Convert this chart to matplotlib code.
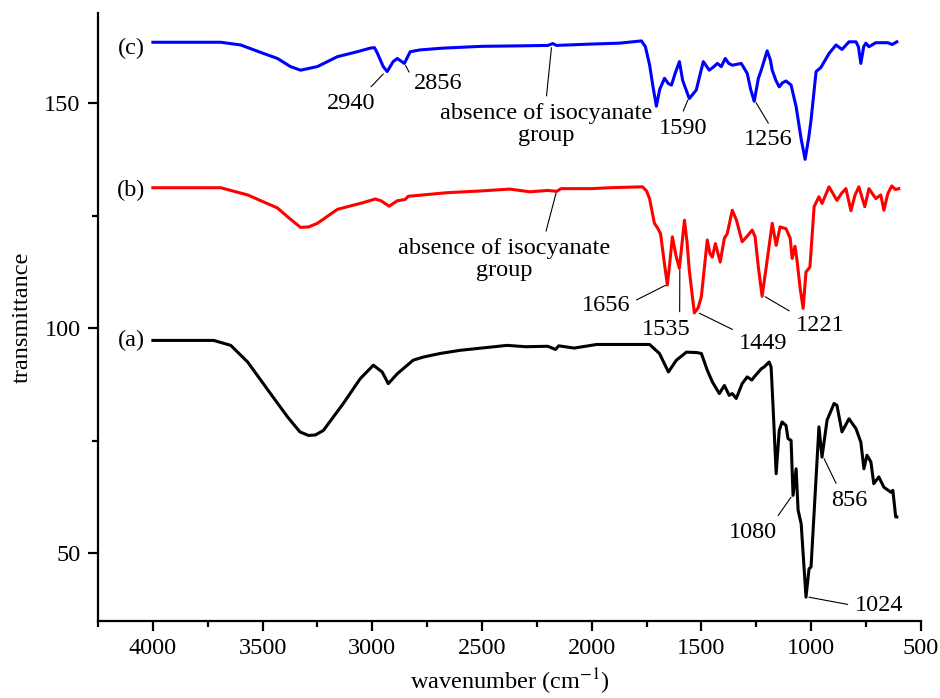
import matplotlib
matplotlib.use("Agg")
import matplotlib.pyplot as plt
from matplotlib.ticker import MultipleLocator

# (a) black spectrum
wn_a = [4000, 3850, 3723, 3645, 3568, 3464, 3386, 3330, 3291, 3260, 3223, 3132, 3055, 2995,
        2955, 2927, 2886, 2814, 2768, 2691, 2600, 2386, 2300, 2200, 2165, 2150, 2080, 1977,
        1850, 1736, 1691, 1650, 1614, 1568, 1520, 1500, 1473, 1450, 1418, 1395, 1373, 1359,
        1341, 1314, 1291, 1270, 1259, 1227, 1214, 1191, 1182, 1173, 1159, 1145, 1132, 1114,
        1105, 1091, 1082, 1068, 1059, 1045, 1023, 1009, 1000, 964, 950, 927, 895, 882, 859,
        827, 795, 773, 759, 745, 727, 714, 691, 668, 636, 627, 614, 609]
tr_a = [97.3, 97.3, 97.3, 96.2, 92.5, 85.5, 80.3, 77.0, 76.2, 76.3, 77.3, 83.3, 88.8, 91.8,
        90.3, 87.7, 89.9, 92.9, 93.6, 94.4, 95.1, 96.2, 95.9, 96.0, 95.3, 96.1, 95.6, 96.4,
        96.4, 96.4, 94.4, 90.3, 92.9, 94.7, 94.6, 94.4, 90.7, 88.1, 85.5, 87.3, 85.1, 85.5,
        84.4, 87.7, 89.2, 88.5, 89.2, 91.0, 91.4, 92.5, 91.4, 82.5, 67.7, 77.3, 79.2, 78.4,
        75.5, 75.1, 62.9, 68.8, 59.6, 56.6, 40.3, 46.6, 47.0, 78.1, 71.4, 79.6, 83.3, 82.9, 77.0,
        79.9, 77.7, 74.7, 68.8, 71.8, 70.3, 65.5, 67.0, 64.7, 63.6, 64.0, 58.1, 58.1]

# (b) red spectrum
wn_b = [4000, 3850, 3691, 3568, 3432, 3380, 3327, 3290, 3250, 3159, 3041, 2986, 2960, 2923,
        2886, 2850, 2836, 2659, 2500, 2373, 2282, 2200, 2159, 2140, 2000, 1918, 1768, 1750,
        1736, 1714, 1700, 1686, 1670, 1655, 1645, 1632, 1615, 1600, 1577, 1565, 1555, 1532,
        1515, 1500, 1473, 1460, 1450, 1436, 1414, 1395, 1382, 1359, 1340, 1314, 1290, 1268,
        1255, 1240, 1223, 1200, 1177, 1159, 1141, 1114, 1095, 1086, 1073, 1064, 1050, 1036,
        1023, 1005, 986, 964, 950, 918, 882, 860, 841, 818, 800, 782, 755, 736, 705, 682, 668,
        650, 632, 615, 600]
tr_b = [131.2, 131.2, 131.2, 129.6, 126.7, 124.5, 122.4, 122.5, 123.3, 126.4, 127.9, 128.7,
        128.3, 127.1, 128.3, 128.6, 129.3, 130.1, 130.5, 130.9, 130.3, 130.6, 130.4, 131.0,
        131.0, 131.2, 131.4, 130.5, 128.8, 123.3, 122.3, 121.0, 115.0, 109.6, 114.0, 120.3,
        116.0, 113.3, 124.0, 119.0, 112.9, 103.4, 104.5, 107.0, 119.6, 116.5, 115.8, 118.8,
        114.7, 120.0, 121.0, 126.2, 124.0, 119.2, 120.5, 121.8, 120.3, 113.5, 107.1, 115.1,
        123.3, 118.4, 122.5, 122.1, 120.0, 115.5, 118.2, 115.1, 109.0, 104.4, 112.5, 113.6,
        127.0, 129.2, 127.7, 131.4, 128.4, 130.0, 131.0, 126.1, 129.5, 131.4, 127.0, 131.0,
        128.8, 129.6, 126.2, 129.9, 131.6, 130.8, 131.0]

# (c) blue spectrum
wn_c = [4000, 3850, 3691, 3600, 3495, 3432, 3373, 3327, 3250, 3159, 3068, 3009, 2990, 2977,
        2950, 2932, 2905, 2886, 2854, 2827, 2782, 2677, 2500, 2327, 2200, 2177, 2160, 2000,
        1873, 1773, 1755, 1736, 1720, 1705, 1690, 1668, 1650, 1636, 1620, 1600, 1585, 1555,
        1523, 1505, 1491, 1464, 1445, 1427, 1409, 1391, 1375, 1359, 1318, 1291, 1275, 1259,
        1240, 1227, 1200, 1185, 1177, 1160, 1145, 1130, 1114, 1091, 1068, 1045, 1027, 1010,
        1000, 977, 955, 918, 886, 859, 827, 795, 784, 773, 760, 750, 736, 705, 650, 630, 609]
tr_c = [163.5, 163.5, 163.5, 162.9, 161.0, 159.9, 158.1, 157.3, 158.1, 160.3, 161.4, 162.2,
        162.3, 161.1, 158.1, 157.0, 159.2, 159.9, 158.8, 161.4, 161.8, 162.2, 162.6, 162.7,
        162.8, 163.2, 162.8, 163.1, 163.3, 163.8, 162.5, 158.5, 153.5, 149.3, 153.0, 155.5,
        154.3, 154.0, 156.5, 159.2, 155.0, 151.0, 152.9, 156.5, 159.2, 157.3, 158.0, 158.8,
        158.1, 159.9, 158.8, 158.4, 158.8, 156.6, 153.0, 150.4, 155.5, 157.3, 161.6, 159.5,
        157.3, 155.0, 153.6, 154.5, 154.9, 154.0, 149.2, 142.0, 137.5, 142.5, 146.2, 157.0,
        157.9, 161.0, 162.9, 161.9, 163.6, 163.6, 162.5, 158.8, 162.5, 163.3, 162.5, 163.4,
        163.4, 163.0, 163.6]

# peak labels: text, point on curve, text position, where the leader leaves the text
labels = ["2940", "2856", "absence of isocyanate\ngroup", "absence of isocyanate\ngroup",
          "1656", "1535", "1449", "1221", "1590", "1256", "1080", "856", "1024"]
label_xy = [(2941, 156.9), (2854, 158.9), (2182, 162.9), (2159, 130.6),
            (1652, 109.8), (1598, 113.5), (1520, 103.6), (1220, 107.3),
            (1557, 151.2), (1257, 150.6), (1084, 63.0), (946, 71.6), (1022, 40.4)]
label_txt = [(3095, 150.0), (2700, 154.4), (2209, 145.3), (2400, 115.3),
             (1936, 105.1), (1659, 99.8), (1218, 96.7), (959, 100.7),
             (1582, 144.4), (1195, 141.8), (1264, 54.7), (827, 61.8), (691, 38.4)]
label_rel = [(0.79, 1), (0, 0.6), (0.5, 1), (0.69, 1),
             (1, 0.6), (0.77, 1), (0, 1), (0, 1),
             (0.44, 1), (0.58, 1), (0.93, 1), (0.23, 1), (0, 0.5)]

plt.rcParams['font.family'] = ['Liberation Serif', 'DejaVu Serif']
plt.rcParams['mathtext.fontset'] = 'stix'
plt.rcParams['font.size'] = 17.5

fig = plt.figure(figsize=(9.4, 6.98), dpi=100)
ax = fig.add_axes([0.1043, 0.1103, 0.8752, 0.8711])

ax.plot(wn_a, tr_a, color='k', lw=2.2)
ax.plot(wn_b, tr_b, color='#ff0000', lw=2.2)
ax.plot(wn_c, tr_c, color='#0000ff', lw=2.2)

ax.text(4100, 162.2, "(c)", ha='center', va='center')
ax.text(4100, 130.7, "(b)", ha='center', va='center')
ax.text(4100, 97.3, "(a)", ha='center', va='center')

for t, xy, xt, rp in zip(labels, label_xy, label_txt, label_rel):
    ax.annotate(t, xy=xy, xytext=xt, ha='center', va='center', multialignment='center',
                linespacing=1.05,
                arrowprops=dict(arrowstyle='-', color='k', lw=0.8, relpos=rp,
                                shrinkA=3, shrinkB=2))

ax.set_xlim(4250, 500)
ax.set_ylim(35, 170)
ax.xaxis.set_major_locator(MultipleLocator(500))
ax.xaxis.set_minor_locator(MultipleLocator(250))
ax.yaxis.set_major_locator(MultipleLocator(50))
ax.yaxis.set_minor_locator(MultipleLocator(25))
ax.spines['top'].set_visible(False)
ax.spines['right'].set_visible(False)
for s in ['left', 'bottom']:
    ax.spines[s].set_linewidth(1.6)
ax.tick_params(which='major', direction='out', length=7.5, width=1.6, pad=5)
ax.tick_params(which='minor', direction='out', length=4, width=1.6)

ax.set_xlabel(r"wavenumber (cm$^{-1}$)", labelpad=5)
ax.set_ylabel("transmittance", labelpad=8)

plt.savefig("out.png", dpi=100)
